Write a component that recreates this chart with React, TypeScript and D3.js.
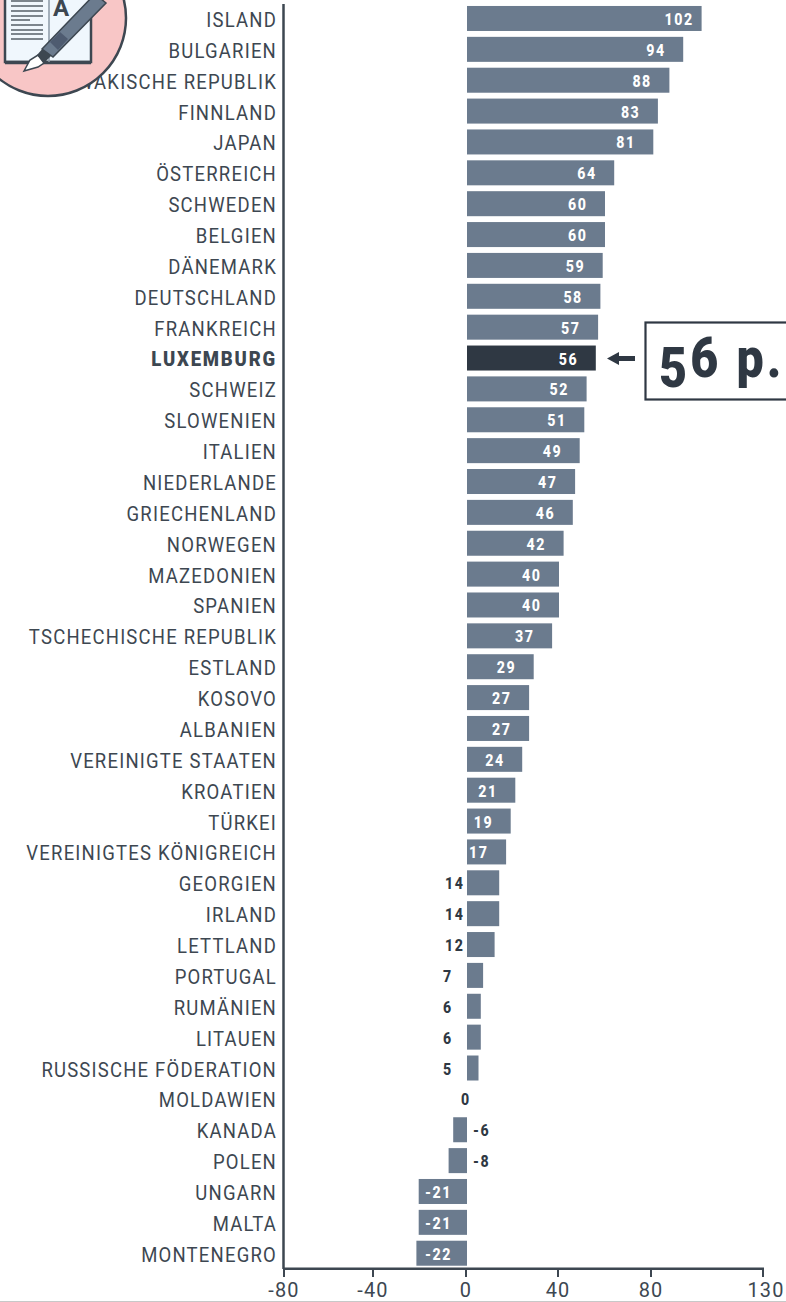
import React from "react";
import * as d3 from "d3";

const countries = ["ISLAND","BULGARIEN","SLOWAKISCHE REPUBLIK","FINNLAND","JAPAN","ÖSTERREICH","SCHWEDEN","BELGIEN","DÄNEMARK","DEUTSCHLAND","FRANKREICH","LUXEMBURG","SCHWEIZ","SLOWENIEN","ITALIEN","NIEDERLANDE","GRIECHENLAND","NORWEGEN","MAZEDONIEN","SPANIEN","TSCHECHISCHE REPUBLIK","ESTLAND","KOSOVO","ALBANIEN","VEREINIGTE STAATEN","KROATIEN","TÜRKEI","VEREINIGTES KÖNIGREICH","GEORGIEN","IRLAND","LETTLAND","PORTUGAL","RUMÄNIEN","LITAUEN","RUSSISCHE FÖDERATION","MOLDAWIEN","KANADA","POLEN","UNGARN","MALTA","MONTENEGRO"];
const values = [102,94,88,83,81,64,60,60,59,58,57,56,52,51,49,47,46,42,40,40,37,29,27,27,24,21,19,17,14,14,12,7,6,6,5,0,-6,-8,-21,-21,-22];
const axisTicks = [-80,-40,0,40,80,130];
const highlight = "LUXEMBURG";

const BAR = "#6b7b8e";
const DARK = "#2f3843";
const INK = "#3d4751";
const FONT = "Roboto,sans-serif";

function T({ x, y, sx = 1, anchor = "start", size, weight = 400, ls = 0, fill, children }: any) {
  return (
    <text transform={`translate(${x},${y}) scale(${sx},1)`} textAnchor={anchor} fontFamily={FONT} fontSize={size} fontWeight={weight} letterSpacing={ls} fill={fill}>
      {children}
    </text>
  );
}

export default function App() {
  const y = d3.scaleBand<string>().domain(countries).range([3.2, 1268.5]).paddingInner(0.19).paddingOuter(0.09);
  const x = d3.scaleLinear().domain([0, 100]).range([467, 697]);
  const axisX = d3.scaleLinear().domain(axisTicks).range([284, 373, 466, 558, 651, 763]);
  return (
    <svg width={786} height={1302} style={{ position: "fixed", left: 0, top: 0, background: "#fff" }}>
      <line x1={283.5} x2={283.5} y1={4} y2={1269} stroke={INK} strokeWidth={2.5} />
      <line x1={283} x2={764} y1={1268.7} y2={1268.7} stroke={INK} strokeWidth={2.5} />
      {axisTicks.map((t) => (
        <g key={t}>
          <line x1={axisX(t)} x2={axisX(t)} y1={1268} y2={1277} stroke={INK} strokeWidth={2} />
          <T x={t === 130 ? 766 : axisX(t)} y={1296.8} sx={0.95} anchor="middle" size={21} ls={1.2} fill={INK}>{t}</T>
        </g>
      ))}
      {countries.map((c, i) => {
        const v = values[i];
        const top = y(c)!;
        const h = y.bandwidth();
        const cy = top + h / 2;
        const isH = c === highlight;
        const left = Math.min(x(v), x(0));
        const w = Math.abs(x(v) - x(0));
        let lx = x(v) - 37;
        let fill = "#fff";
        if (v < 0 && v > -10) { lx = 473; fill = DARK; }
        else if (v <= -10) { lx = 425; }
        else if (v === 0) { lx = 461; fill = DARK; }
        else if (v < 17) { lx = v >= 10 ? 445 : 443; fill = DARK; }
        return (
          <g key={c}>
            {isH
              ? <T x={277} y={cy + 8} sx={0.95} anchor="end" size={19.5} weight={900} ls={1.9} fill={INK}>{c}</T>
              : <T x={277} y={cy + 8.5} sx={0.89} anchor="end" size={20.8} ls={1.35} fill={INK}>{c}</T>}
            {v !== 0 && <rect x={left} y={top} width={w} height={h} fill={isH ? DARK : BAR} />}
            <T x={lx} y={cy + 6.5} sx={0.86} size={16.5} weight={800} ls={1.8} fill={fill}>{v}</T>
          </g>
        );
      })}
      <path d="M607 358.5 L619 352 L619 356 L635 356 L635 361 L619 361 L619 365 Z" fill={DARK} />
      <rect x={645.5} y={322.5} width={150} height={77} fill="#fff" stroke={DARK} strokeWidth={2.2} />
      <text transform="translate(659,377) scale(0.88,1)" fontFamily={FONT} fontWeight={900} fontSize={55} letterSpacing={3.5} fill={DARK}>
        <tspan dy={10}>5</tspan><tspan dy={-10}>6 p.</tspan>
      </text>
      <g>
        <circle cx={48} cy={18} r={78} fill="#f8c6c6" stroke={INK} strokeWidth={2.5} />
        <rect x={5} y={-6} width={86} height={68} fill="#f0f7fd" stroke={INK} strokeWidth={2.5} />
        <line x1={5} x2={91} y1={62.5} y2={62.5} stroke={INK} strokeWidth={3.5} />
        <line x1={49} x2={49} y1={-6} y2={62} stroke="#8a97a5" strokeWidth={1.5} />
        {[1, 6, 11, 16, 20, 25, 30, 34, 39].map((l) => (
          <line key={l} x1={11} x2={l === 20 ? 30 : 43} y1={l} y2={l} stroke={INK} strokeWidth={1.3} />
        ))}
        <text x={53} y={16} fontFamily={FONT} fontWeight={700} fontSize={24} fill={INK}>A</text>
        <path d="M24 71 L30 60 L38 55 L44 63 L38 67 Z" fill="#fff" stroke={INK} strokeWidth={1.5} />
        <path d="M37 55 L44 47 L52 55 L44 63 Z" fill={INK} />
        <path d="M42 49 L95 -6 L106 3 L53 57 Z" fill={BAR} stroke={INK} strokeWidth={1.5} />
        <path d="M50 42 L60 32 L68 39 L58 50 Z" fill="#4e5b70" />
      </g>
      <line x1={0} x2={786} y1={1301.5} y2={1301.5} stroke="#c8c8c8" strokeWidth={1} />
    </svg>
  );
}
